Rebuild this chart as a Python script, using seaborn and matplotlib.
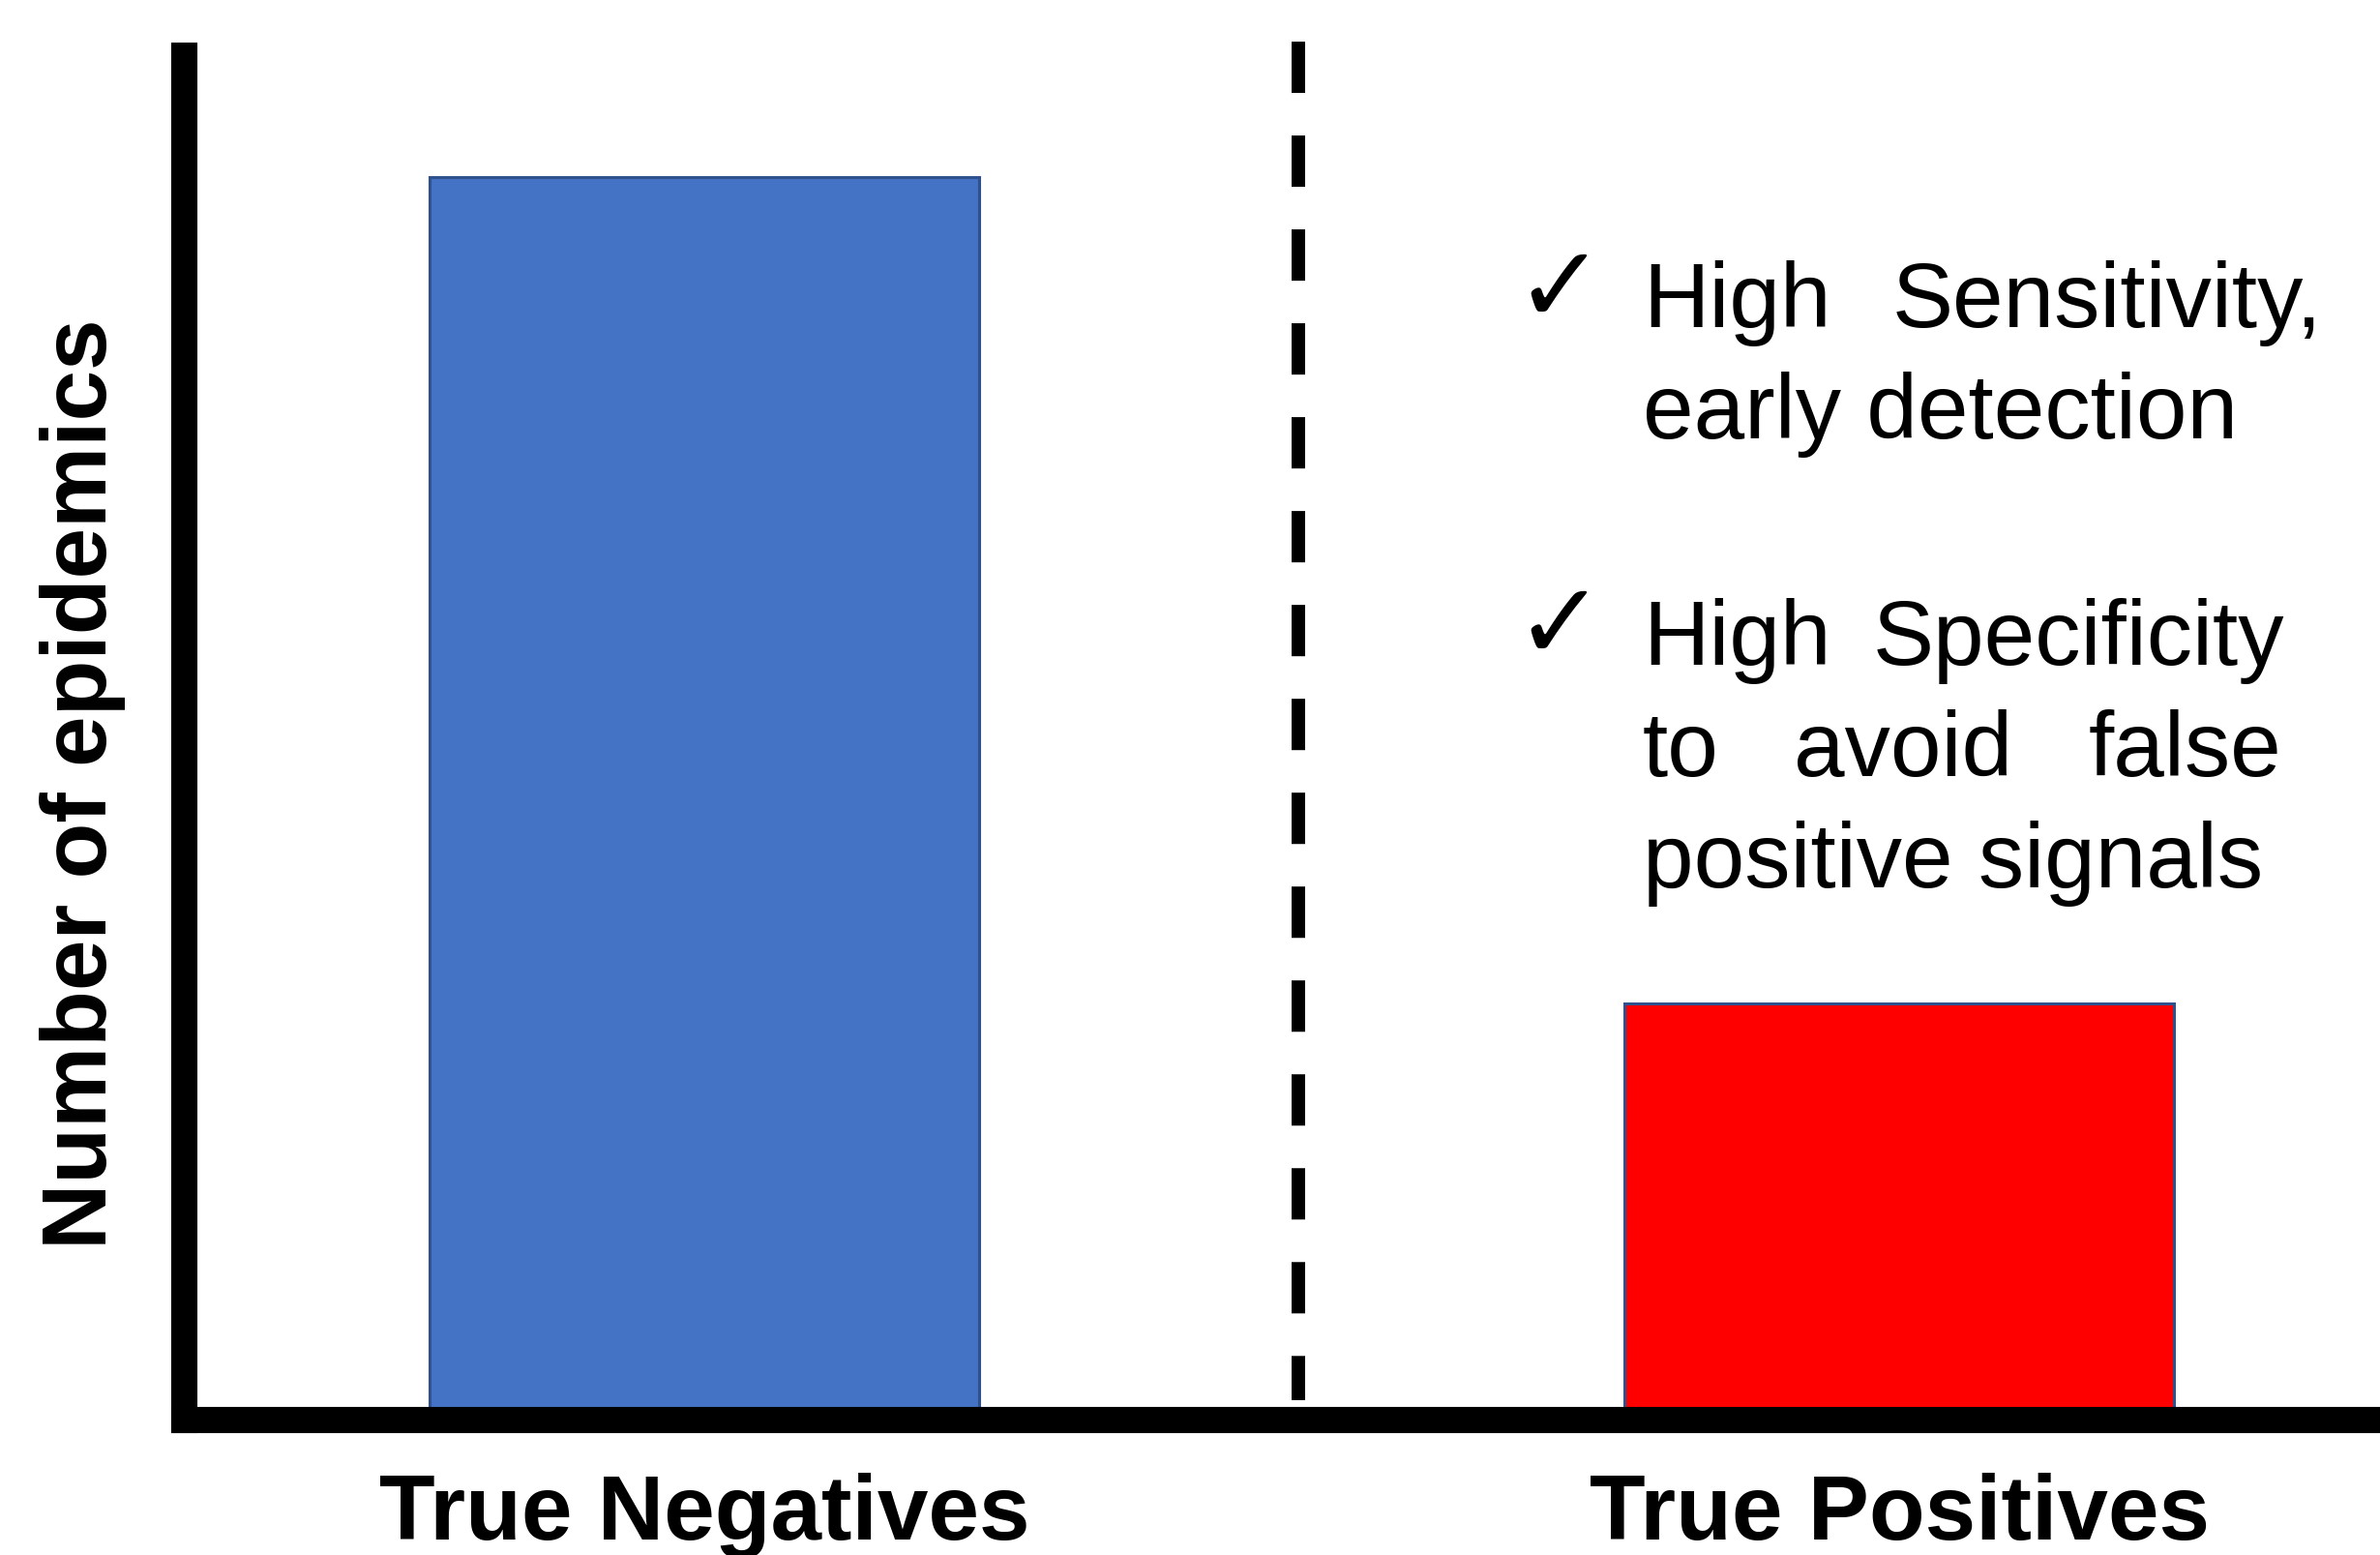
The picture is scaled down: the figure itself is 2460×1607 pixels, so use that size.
import matplotlib
matplotlib.use('Agg')
import matplotlib.pyplot as plt
import seaborn as sns
import pandas as pd
from matplotlib.transforms import blended_transform_factory

# ---- data ----
categories = ['True Negatives', 'True Positives']
values = [91, 30.5]
bar_colors = ['#4472C4', '#FF0000']
y_label = 'Number of epidemics'
bullet1_lines = ['High  Sensitivity,', 'early detection']
bullet2_lines = ['High Specificity', 'to avoid false', 'positive signals']
check = '\u2713'

sns.set_style('white')
plt.rcParams['font.family'] = ['Liberation Sans', 'DejaVu Sans']

W, H = 2460, 1608
fig = plt.figure(figsize=(W / 100, H / 100), dpi=100)
ax = fig.add_axes([190 / W, 140 / H, (W - 190) / W, (1468 - 57.5) / H])

df = pd.DataFrame({'cat': categories, 'val': values})
sns.barplot(data=df, x='cat', y='val', hue='cat', palette=bar_colors,
            saturation=1, width=0.46, edgecolor='#2F528F', linewidth=2.2,
            legend=False, ax=ax)
ax.set_xlim(-0.4356, 1.4024)
ax.set_ylim(0, 100)

for s in ['top', 'right']:
    ax.spines[s].set_visible(False)
for s in ['left', 'bottom']:
    ax.spines[s].set_linewidth(19.5)
    ax.spines[s].set_color('black')
    ax.spines[s].set_capstyle('projecting')

ax.set_yticks([])
ax.tick_params(axis='x', length=0, pad=39)
ax.set_xticks(range(len(categories)))
ax.set_xticklabels(categories, fontsize=68, fontweight='bold', color='black')
ax.set_xlabel('')
ax.set_ylabel(y_label, fontsize=68, fontweight='bold', color='black')
ax.yaxis.set_label_coords((130 - 190) / 2270, (1468 - 810) / 1410.5)

# dashed separator
trans = blended_transform_factory(ax.transData, ax.transAxes)
ax.plot([0.497, 0.497], [1.0096, 0.0142], transform=trans, color='black',
        lw=10.08, linestyle=(0, (3.79, 3.14)), clip_on=False,
        dash_capstyle='butt')

# ---- annotation text ----
def fx(px):
    return px / W

def fy(py):
    return 1 - py / H

renderer = fig.canvas.get_renderer()
TXT = 68

def put_line(line, left, base, right=None):
    if right is None:
        fig.text(fx(left), fy(base), line, fontsize=TXT, va='baseline', ha='left', color='black')
        return
    words = line.split()
    texts = [fig.text(0, fy(base), w, fontsize=TXT, va='baseline', ha='left', color='black') for w in words]
    widths = [t.get_window_extent(renderer).width for t in texts]
    gap = (right - left - sum(widths)) / (len(words) - 1)
    x = left
    for t, w in zip(texts, widths):
        t.set_x(fx(x))
        x += w + gap

left = 1698
put_line(bullet1_lines[0], left, 338, 2400)
put_line(bullet1_lines[1], left, 453)
put_line(bullet2_lines[0], left, 687, 2361)
put_line(bullet2_lines[1], left, 802, 2358)
put_line(bullet2_lines[2], left, 917)

fig.text(fx(1612), fy(302), check, fontsize=80, ha='center', va='center',
         family=['DejaVu Sans'], color='black')
fig.text(fx(1612), fy(650), check, fontsize=80, ha='center', va='center',
         family=['DejaVu Sans'], color='black')

fig.savefig('out.png', dpi=100, facecolor='white')
